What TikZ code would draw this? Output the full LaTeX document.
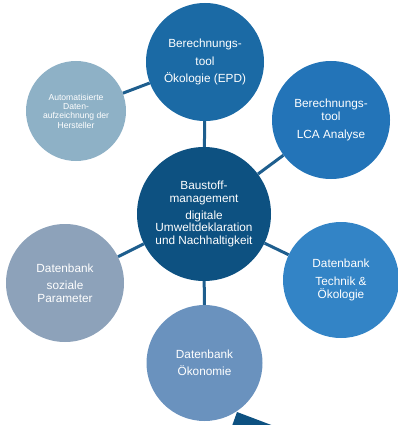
\documentclass[tikz,border=0pt]{standalone}
\usepackage{fontspec}
\setmainfont{Liberation Sans}
\definecolor{cEPD}{HTML}{1B6AA5}
\definecolor{cLCA}{HTML}{2374B8}
\definecolor{cMain}{HTML}{0D5181}
\definecolor{cTech}{HTML}{3384C6}
\definecolor{cOeko}{HTML}{6A92BE}
\definecolor{cSoz}{HTML}{8DA2BA}
\definecolor{cAuto}{HTML}{8EB1C6}
\definecolor{cLink}{HTML}{1E5E8E}
\begin{document}
\begin{tikzpicture}[x=1pt,y=-1pt,
  bubble/.style={circle,inner sep=0pt,text=white,align=center,
    font=\fontsize{11.8}{12.6}\selectfont},
  smallbubble/.style={bubble,font=\fontsize{8.6}{9.3}\selectfont},
  link/.style={draw=cLink,line width=3pt}]
\useasboundingbox (0,0) rectangle (397,425);
\node[bubble,fill=cMain,minimum size=134pt] (main) at (204,214)
  {Baustoff-\\management\\[4pt]digitale\\Umweltdeklaration\\und Nachhaltigkeit};
\node[bubble,fill=cEPD,minimum size=118pt] (epd) at (205,62)
  {Berechnungs-\\[5pt]tool\\[5pt]Ökologie (EPD)};
\node[bubble,fill=cLCA,minimum size=118pt] (lca) at (331,120)
  {Berechnungs-\\tool\\[5pt]LCA Analyse};
\node[bubble,fill=cTech,minimum size=116pt] (tech) at (341,280)
  {Datenbank\\[5pt]Technik \&\\Ökologie};
\node[bubble,fill=cOeko,minimum size=116pt] (oeko) at (204.5,363)
  {Datenbank\\[4.5pt]Ökonomie};
\node[bubble,fill=cSoz,minimum size=118pt] (soz) at (65,283)
  {Datenbank\\[5pt]soziale\\Parameter};
\node[smallbubble,fill=cAuto,minimum size=100pt] (auto) at (76,111)
  {Automatisierte\\Daten-\\aufzeichnung der\\Hersteller};
\draw[link] (main) -- (epd);
\draw[link] (main) -- (lca);
\draw[link] (main) -- (tech);
\draw[link] (main) -- (oeko);
\draw[link] (main) -- (soz);
\draw[link] (auto) -- (epd);
\fill[cMain] (232,426) -- (237,412) -- (274,426) -- cycle;
\end{tikzpicture}
\end{document}
